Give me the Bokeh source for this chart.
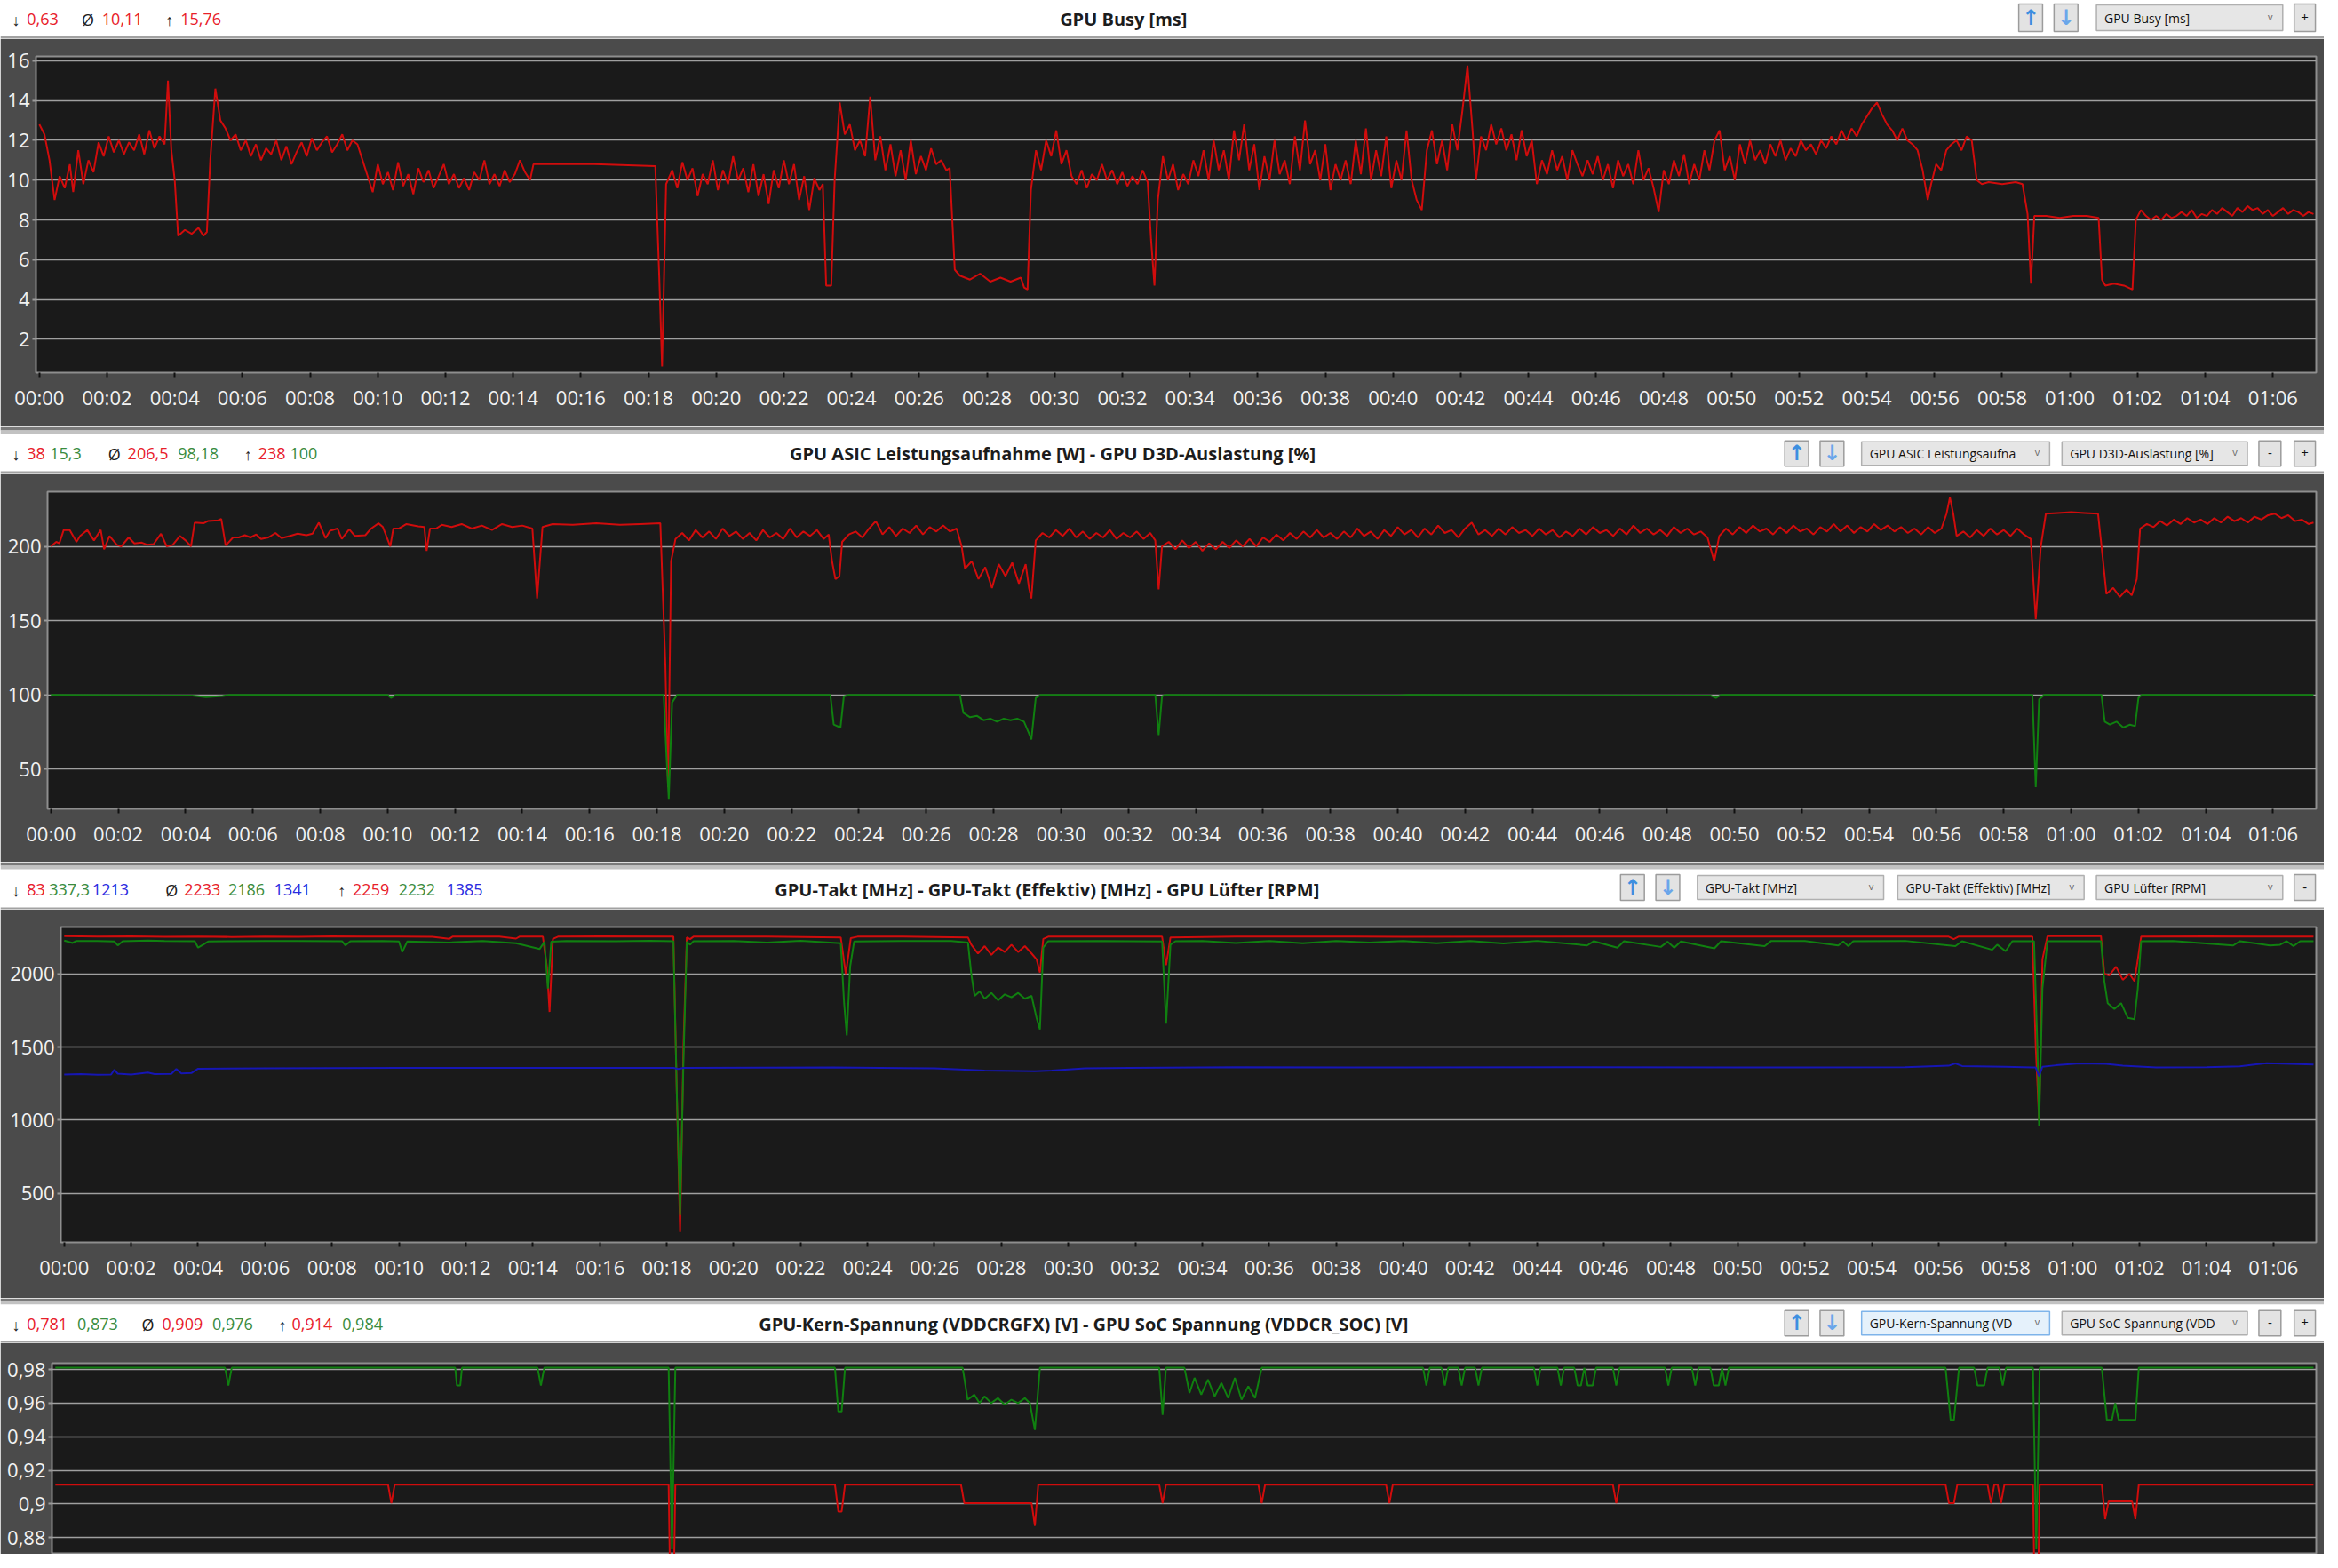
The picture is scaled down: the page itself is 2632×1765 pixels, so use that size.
from bokeh.plotting import figure
from bokeh.layouts import column
from bokeh.models import Range1d, FixedTicker, CustomJSTickFormatter, ColumnDataSource
from bokeh.core.properties import value
from bokeh.embed import file_html
from bokeh.resources import INLINE

# ------------------------------------------------------------------ data
time_ticks = [0, 2, 4, 6, 8, 10, 12, 14, 16, 18, 20, 22, 24, 26, 28, 30, 32,
              34, 36, 38, 40, 42, 44, 46, 48, 50, 52, 54, 56, 58, 60, 62, 64, 66]
time_labels = ["00:00", "00:02", "00:04", "00:06", "00:08", "00:10", "00:12", "00:14",
               "00:16", "00:18", "00:20", "00:22", "00:24", "00:26", "00:28", "00:30",
               "00:32", "00:34", "00:36", "00:38", "00:40", "00:42", "00:44", "00:46",
               "00:48", "00:50", "00:52", "00:54", "00:56", "00:58", "01:00", "01:02",
               "01:04", "01:06"]

busy_ticks = [2, 4, 6, 8, 10, 12, 14, 16]
busy_labels = ["2", "4", "6", "8", "10", "12", "14", "16"]
power_ticks = [50, 100, 150, 200]
power_labels = ["50", "100", "150", "200"]
clock_ticks = [500, 1000, 1500, 2000]
clock_labels = ["500", "1000", "1500", "2000"]
volt_ticks = [0.88, 0.9, 0.92, 0.94, 0.96, 0.98]
volt_labels = ["0,88", "0,9", "0,92", "0,94", "0,96", "0,98"]

busy_title = "GPU Busy [ms]"
power_title = "GPU ASIC Leistungsaufnahme [W]  -  GPU D3D-Auslastung [%]"
clock_title = "GPU-Takt [MHz]  -  GPU-Takt (Effektiv) [MHz]  -  GPU Lüfter [RPM]"
volt_title = "GPU-Kern-Spannung (VDDCRGFX) [V]  -  GPU SoC Spannung (VDDCR_SOC) [V]"

busy_stats = [["0,63"], ["10,11"], ["15,76"]]
power_stats = [["38", "15,3"], ["206,5", "98,18"], ["238", "100"]]
clock_stats = [["83", "337,3", "1213"], ["2233", "2186", "1341"], ["2259", "2232", "1385"]]
volt_stats = [["0,781", "0,873"], ["0,909", "0,976"], ["0,914", "0,984"]]

busy_menu = ["GPU Busy [ms]"]
power_menu = ["GPU ASIC Leistungsaufna", "GPU D3D-Auslastung [%]"]
clock_menu = ["GPU-Takt [MHz]", "GPU-Takt (Effektiv) [MHz]", "GPU Lüfter [RPM]"]
volt_menu = ["GPU-Kern-Spannung (VD", "GPU SoC Spannung (VDD"]

# GPU Busy [ms]  (time s, value)
gpu_busy = [
    (0.0, 12.8), (0.15, 12.3), (0.3, 11.0), (0.45, 9.0), (0.6, 10.2), (0.75, 9.6), (0.9, 10.8),
    (1.0, 9.4), (1.15, 11.5), (1.3, 9.8), (1.45, 11.0), (1.6, 10.4), (1.75, 11.9), (1.9, 11.2),
    (2.05, 12.2), (2.2, 11.4), (2.35, 12.0), (2.5, 11.3), (2.65, 11.9), (2.8, 11.5), (2.95, 12.3),
    (3.1, 11.3), (3.25, 12.5), (3.4, 11.6), (3.55, 12.2), (3.7, 11.8), (3.8, 15.0), (3.9, 11.5),
    (4.0, 10.0), (4.1, 7.2), (4.3, 7.5), (4.5, 7.3), (4.7, 7.6), (4.85, 7.2), (4.95, 7.4),
    (5.05, 11.0), (5.2, 14.6), (5.35, 13.0), (5.5, 12.6), (5.65, 12.0), (5.8, 12.3), (5.95, 11.5),
    (6.1, 12.0), (6.25, 11.2), (6.4, 11.8), (6.55, 11.0), (6.7, 11.6), (6.85, 11.3), (7.0, 12.0),
    (7.15, 11.0), (7.3, 11.7), (7.45, 10.8), (7.6, 11.4), (7.75, 11.9), (7.9, 11.2), (8.05, 12.1),
    (8.2, 11.5), (8.35, 11.9), (8.5, 12.2), (8.65, 11.4), (8.8, 11.8), (8.95, 12.3), (9.1, 11.5),
    (9.25, 12.0), (9.4, 11.8), (9.55, 11.0), (9.7, 10.2), (9.85, 9.4), (10.0, 10.8), (10.15, 9.8),
    (10.3, 10.4), (10.45, 9.5), (10.6, 10.9), (10.75, 9.7), (10.9, 10.3), (11.05, 9.3), (11.2, 10.6),
    (11.35, 9.9), (11.5, 10.5), (11.65, 9.6), (11.8, 10.2), (11.95, 10.8), (12.1, 9.8), (12.25, 10.3),
    (12.4, 9.6), (12.55, 10.1), (12.7, 9.5), (12.85, 10.4), (13.0, 10.0), (13.15, 11.0), (13.3, 9.8),
    (13.45, 10.3), (13.6, 9.7), (13.75, 10.5), (13.9, 9.9), (14.05, 10.3), (14.2, 11.0), (14.35, 10.4),
    (14.5, 10.0), (14.6, 10.8), (16.4, 10.8), (18.2, 10.7), (18.32, 5.0), (18.4, 0.63), (18.52, 9.8),
    (18.7, 10.5), (18.85, 9.6), (19.0, 10.9), (19.15, 10.0), (19.3, 10.6), (19.45, 9.2), (19.6, 10.3),
    (19.75, 9.8), (19.9, 11.0), (20.05, 9.5), (20.2, 10.5), (20.35, 9.8), (20.5, 11.2), (20.65, 10.0),
    (20.8, 10.6), (20.95, 9.4), (21.1, 10.8), (21.25, 9.2), (21.4, 10.3), (21.55, 8.8), (21.7, 10.5),
    (21.85, 9.6), (22.0, 11.0), (22.15, 9.8), (22.3, 10.8), (22.45, 9.0), (22.6, 10.2), (22.75, 8.5),
    (22.9, 10.1), (23.05, 9.5), (23.15, 9.8), (23.25, 4.7), (23.4, 4.7), (23.5, 10.0), (23.65, 13.9),
    (23.8, 12.3), (23.95, 12.8), (24.1, 11.5), (24.25, 12.0), (24.4, 11.2), (24.55, 14.2), (24.7, 11.0),
    (24.85, 12.2), (25.0, 10.5), (25.15, 11.8), (25.3, 10.2), (25.45, 11.5), (25.6, 10.0), (25.75, 12.0),
    (25.9, 10.3), (26.05, 11.2), (26.2, 10.5), (26.35, 11.6), (26.5, 10.8), (26.65, 11.0), (26.8, 10.5),
    (26.9, 10.6), (27.05, 5.5), (27.2, 5.2), (27.5, 5.0), (27.8, 5.3), (28.1, 4.9), (28.4, 5.1),
    (28.7, 4.9), (29.0, 5.1), (29.1, 4.6), (29.2, 4.5), (29.3, 9.5), (29.45, 11.5), (29.6, 10.5),
    (29.75, 12.0), (29.9, 11.2), (30.05, 12.5), (30.2, 10.8), (30.35, 11.5), (30.5, 10.2), (30.65, 9.8),
    (30.8, 10.5), (30.95, 9.6), (31.1, 10.3), (31.25, 10.0), (31.4, 10.8), (31.55, 10.0), (31.7, 10.5),
    (31.85, 9.8), (32.0, 10.4), (32.15, 9.7), (32.3, 10.2), (32.45, 9.8), (32.6, 10.5), (32.75, 9.9),
    (32.85, 7.0), (32.95, 4.7), (33.05, 9.0), (33.2, 11.2), (33.35, 10.0), (33.5, 10.8), (33.65, 9.5),
    (33.8, 10.3), (33.95, 9.8), (34.1, 11.0), (34.25, 10.2), (34.4, 11.5), (34.55, 10.0), (34.7, 12.0),
    (34.85, 10.5), (35.0, 11.5), (35.15, 10.0), (35.3, 12.5), (35.45, 11.0), (35.6, 12.8), (35.75, 10.5),
    (35.9, 11.8), (36.05, 9.5), (36.2, 11.2), (36.35, 10.0), (36.5, 12.0), (36.65, 10.3), (36.8, 11.0),
    (36.95, 9.8), (37.1, 12.2), (37.25, 10.5), (37.4, 13.0), (37.55, 10.8), (37.7, 11.5), (37.85, 10.0),
    (38.0, 11.8), (38.15, 9.5), (38.3, 10.8), (38.45, 10.0), (38.6, 11.0), (38.75, 9.8), (38.9, 12.0),
    (39.05, 10.3), (39.2, 12.6), (39.35, 10.0), (39.5, 11.5), (39.65, 10.2), (39.8, 12.2), (39.95, 9.6),
    (40.1, 11.0), (40.25, 10.0), (40.4, 12.5), (40.55, 10.0), (40.7, 9.0), (40.85, 8.5), (41.0, 11.5),
    (41.15, 12.5), (41.3, 10.8), (41.45, 12.0), (41.6, 10.5), (41.75, 12.8), (41.9, 11.5), (42.05, 13.5),
    (42.2, 15.76), (42.35, 12.5), (42.45, 10.0), (42.6, 12.2), (42.75, 11.5), (42.9, 12.8), (43.05, 11.8),
    (43.2, 12.6), (43.35, 11.5), (43.5, 12.3), (43.65, 11.0), (43.8, 12.5), (43.95, 11.2), (44.1, 12.0),
    (44.25, 9.8), (44.4, 11.0), (44.55, 10.3), (44.7, 11.5), (44.85, 10.5), (45.0, 11.2), (45.15, 10.0),
    (45.3, 11.5), (45.45, 10.8), (45.6, 10.2), (45.75, 11.0), (45.9, 10.3), (46.05, 11.2), (46.2, 10.0),
    (46.35, 10.8), (46.5, 9.6), (46.65, 11.0), (46.8, 10.2), (46.95, 10.8), (47.1, 9.8), (47.25, 11.5),
    (47.4, 10.0), (47.55, 10.6), (47.7, 9.6), (47.85, 8.4), (48.0, 10.5), (48.15, 9.8), (48.3, 11.0),
    (48.45, 10.2), (48.6, 11.3), (48.75, 9.8), (48.9, 10.8), (49.05, 10.0), (49.2, 11.5), (49.35, 10.5),
    (49.5, 12.0), (49.65, 12.5), (49.8, 10.5), (49.95, 11.2), (50.1, 10.0), (50.25, 11.8), (50.4, 10.8),
    (50.55, 12.0), (50.7, 11.0), (50.85, 11.5), (51.0, 10.8), (51.15, 11.8), (51.3, 11.2), (51.45, 12.0),
    (51.6, 11.0), (51.75, 11.6), (51.9, 11.2), (52.05, 12.0), (52.2, 11.5), (52.35, 11.8), (52.5, 11.3),
    (52.65, 12.0), (52.8, 11.6), (52.95, 12.2), (53.1, 11.8), (53.25, 12.5), (53.4, 12.0), (53.55, 12.6),
    (53.7, 12.2), (53.85, 12.8), (54.0, 13.2), (54.15, 13.6), (54.3, 13.9), (54.45, 13.3), (54.6, 12.8),
    (54.75, 12.5), (54.9, 12.0), (55.05, 12.6), (55.2, 12.0), (55.35, 11.8), (55.5, 11.5), (55.65, 10.5),
    (55.8, 9.0), (55.9, 9.8), (56.05, 10.8), (56.2, 10.5), (56.35, 11.5), (56.5, 11.8), (56.65, 12.0),
    (56.8, 11.5), (56.95, 12.2), (57.1, 12.0), (57.25, 10.0), (57.4, 9.8), (57.6, 9.9), (58.0, 9.8),
    (58.4, 9.9), (58.6, 9.8), (58.75, 8.3), (58.85, 4.8), (58.95, 8.2), (59.3, 8.2), (59.7, 8.1),
    (60.1, 8.2), (60.5, 8.2), (60.85, 8.1), (60.95, 5.0), (61.05, 4.7), (61.3, 4.8), (61.6, 4.7),
    (61.85, 4.5), (61.95, 8.0), (62.1, 8.5), (62.25, 8.2), (62.4, 8.0), (62.55, 8.2), (62.7, 8.0),
    (62.85, 8.3), (63.0, 8.1), (63.15, 8.2), (63.3, 8.4), (63.45, 8.2), (63.6, 8.5), (63.75, 8.1),
    (63.9, 8.3), (64.05, 8.2), (64.2, 8.5), (64.35, 8.3), (64.5, 8.6), (64.65, 8.4), (64.8, 8.2),
    (64.95, 8.6), (65.1, 8.4), (65.25, 8.7), (65.4, 8.5), (65.55, 8.6), (65.7, 8.3), (65.85, 8.5),
    (66.0, 8.2), (66.15, 8.4), (66.3, 8.6), (66.45, 8.3), (66.6, 8.5), (66.75, 8.4), (66.9, 8.2),
    (67.05, 8.4), (67.2, 8.3),
]

# GPU ASIC Leistungsaufnahme [W]
asic_power = [
    (0.0, 200), (0.16, 203), (0.25, 202), (0.38, 211), (0.56, 211), (0.76, 203), (0.87, 207),
    (1.08, 211), (1.28, 204), (1.48, 211), (1.58, 198), (1.74, 207), (1.96, 201), (2.09, 200),
    (2.31, 206), (2.48, 202), (2.7, 202.5), (2.87, 201), (3.05, 201.5), (3.27, 208.5), (3.44, 200),
    (3.62, 201), (3.83, 207), (4.0, 204), (4.16, 200), (4.27, 216), (4.53, 215.5), (4.66, 217),
    (4.97, 217.5), (5.06, 218.5), (5.19, 200.5), (5.41, 206), (5.58, 206), (5.76, 207.5), (5.93, 206),
    (6.1, 208), (6.24, 205), (6.46, 206), (6.67, 209), (6.85, 205.5), (7.11, 207), (7.33, 208.5),
    (7.59, 207.5), (7.77, 208.5), (7.96, 216), (8.16, 205.5), (8.29, 210.5), (8.51, 212), (8.64, 205),
    (8.86, 211.5), (9.03, 207), (9.34, 207.5), (9.51, 212), (9.73, 215.5), (9.86, 213), (10.08, 200),
    (10.17, 212), (10.34, 212), (10.56, 215), (10.91, 213.5), (11.09, 213), (11.16, 197), (11.26, 212),
    (11.44, 212), (11.61, 214.5), (11.9, 213), (12.2, 215), (12.5, 212), (12.8, 214), (13.1, 211),
    (13.4, 215), (13.7, 213), (14.0, 214), (14.3, 212), (14.44, 165), (14.6, 213), (14.9, 215),
    (15.5, 214.5), (16.2, 215.5), (16.9, 214.5), (17.5, 215), (18.1, 215.5), (18.25, 120), (18.33, 38),
    (18.42, 190), (18.55, 205), (18.75, 209), (18.95, 204), (19.15, 211), (19.35, 206), (19.55, 210),
    (19.75, 205), (19.95, 212), (20.15, 207), (20.35, 210), (20.55, 205), (20.75, 209), (20.95, 204),
    (21.15, 211), (21.35, 206), (21.55, 209), (21.75, 205), (21.95, 212), (22.15, 206), (22.35, 210),
    (22.55, 207), (22.75, 211), (22.95, 205), (23.1, 208), (23.2, 190), (23.3, 178), (23.42, 180),
    (23.5, 203), (23.7, 208), (23.9, 210), (24.1, 206), (24.3, 212), (24.5, 217), (24.7, 208),
    (24.9, 213), (25.1, 207), (25.3, 212), (25.5, 209), (25.7, 214), (25.9, 208), (26.1, 213),
    (26.3, 210), (26.5, 214), (26.7, 210), (26.9, 212), (27.05, 200), (27.15, 185), (27.35, 190),
    (27.55, 178), (27.75, 186), (27.95, 172), (28.15, 188), (28.35, 180), (28.55, 189), (28.75, 175),
    (28.95, 188), (29.05, 172), (29.12, 165), (29.25, 204), (29.45, 209), (29.65, 206), (29.85, 211),
    (30.05, 207), (30.25, 212), (30.45, 206), (30.65, 210), (30.85, 205), (31.05, 209), (31.25, 206),
    (31.45, 211), (31.65, 205), (31.85, 209), (32.05, 206), (32.25, 210), (32.45, 205), (32.65, 209),
    (32.8, 204), (32.9, 171), (33.0, 200), (33.2, 203), (33.4, 198), (33.6, 204), (33.8, 199),
    (34.0, 203), (34.2, 197), (34.4, 202), (34.6, 198), (34.8, 203), (35.0, 199), (35.2, 204),
    (35.4, 200), (35.6, 205), (35.8, 200), (36.0, 206), (36.2, 203), (36.4, 208), (36.6, 204),
    (36.8, 209), (37.0, 205), (37.2, 210), (37.4, 206), (37.6, 211), (37.8, 206), (38.0, 209),
    (38.2, 205), (38.4, 210), (38.6, 206), (38.8, 212), (39.0, 207), (39.2, 210), (39.4, 205),
    (39.6, 211), (39.8, 207), (40.0, 213), (40.2, 208), (40.4, 211), (40.6, 206), (40.8, 212),
    (41.0, 208), (41.2, 214), (41.4, 209), (41.6, 211), (41.8, 206), (42.0, 212), (42.2, 216),
    (42.4, 208), (42.6, 211), (42.8, 207), (43.0, 212), (43.2, 208), (43.4, 213), (43.6, 209),
    (43.8, 211), (44.0, 207), (44.2, 212), (44.4, 208), (44.6, 211), (44.8, 206), (45.0, 210),
    (45.2, 207), (45.4, 212), (45.6, 208), (45.8, 213), (46.0, 209), (46.2, 211), (46.4, 207),
    (46.6, 212), (46.8, 208), (47.0, 214), (47.2, 209), (47.4, 212), (47.6, 208), (47.8, 211),
    (48.0, 207), (48.2, 213), (48.4, 209), (48.6, 212), (48.8, 208), (49.0, 210), (49.2, 206),
    (49.4, 190), (49.55, 207), (49.75, 212), (49.95, 208), (50.15, 213), (50.35, 209), (50.55, 214),
    (50.75, 210), (50.95, 212), (51.15, 208), (51.35, 213), (51.55, 209), (51.75, 214), (51.95, 210),
    (52.15, 212), (52.35, 208), (52.55, 213), (52.75, 210), (52.95, 215), (53.15, 210), (53.35, 214),
    (53.55, 209), (53.75, 213), (53.95, 210), (54.15, 215), (54.35, 211), (54.55, 214), (54.75, 210),
    (54.95, 213), (55.15, 209), (55.35, 212), (55.55, 208), (55.75, 213), (55.95, 209), (56.15, 212),
    (56.3, 222), (56.4, 233), (56.5, 222), (56.6, 207), (56.8, 210), (57.0, 206), (57.2, 211),
    (57.4, 207), (57.6, 212), (57.8, 208), (58.0, 211), (58.2, 207), (58.4, 212), (58.6, 208),
    (58.8, 205), (58.95, 151), (59.1, 200), (59.25, 222), (59.6, 222.5), (60.0, 223), (60.4, 222.5),
    (60.8, 222), (60.95, 190), (61.05, 168), (61.25, 172), (61.45, 166), (61.65, 171), (61.8, 167),
    (61.95, 178), (62.05, 212), (62.25, 215), (62.45, 213), (62.65, 217), (62.85, 214), (63.05, 218),
    (63.25, 215), (63.45, 219), (63.65, 216), (63.85, 218), (64.05, 215), (64.25, 219), (64.45, 216),
    (64.65, 220), (64.85, 217), (65.05, 219), (65.25, 216), (65.45, 220), (65.65, 218), (65.85, 221),
    (66.05, 222), (66.25, 219), (66.45, 221), (66.65, 217), (66.85, 218), (67.05, 215), (67.2, 216),
]

# GPU D3D-Auslastung [%]
d3d_load = [
    (0.0, 100), (4.2, 99.5), (4.6, 98.5), (5.1, 99.2), (5.3, 100), (10.0, 100), (10.1, 98),
    (10.25, 100), (18.2, 100), (18.28, 60), (18.35, 30), (18.45, 95), (18.6, 100), (23.15, 100),
    (23.25, 80), (23.45, 78), (23.55, 99), (23.7, 100), (27.0, 100), (27.1, 88), (27.3, 85),
    (27.5, 86), (27.7, 83), (27.9, 84), (28.1, 82), (28.3, 84), (28.5, 83), (28.7, 84), (28.9, 82),
    (29.05, 74), (29.12, 70), (29.25, 98), (29.4, 100), (32.8, 100), (32.9, 73), (33.0, 99),
    (33.1, 100), (40.0, 99.5), (40.3, 100), (49.3, 99.5), (49.45, 98), (49.6, 100), (58.85, 100),
    (58.95, 38), (59.05, 97), (59.2, 100), (60.9, 100), (61.0, 82), (61.15, 80), (61.35, 82),
    (61.55, 78), (61.75, 80), (61.9, 79), (62.0, 98), (62.1, 100), (67.2, 100),
]

# GPU-Takt [MHz]
gpu_clock = [
    (0.0, 2258), (1.0, 2255), (2.0, 2257), (3.0, 2254), (4.0, 2256), (5.0, 2253), (6.0, 2256),
    (7.0, 2254), (8.0, 2257), (9.0, 2255), (10.0, 2256), (11.0, 2254), (11.5, 2240), (11.6, 2255),
    (13.0, 2255), (13.5, 2242), (13.6, 2255), (14.3, 2255), (14.42, 2050), (14.5, 1740),
    (14.6, 2240), (14.75, 2255), (16.0, 2257), (18.2, 2256), (18.3, 1200), (18.4, 235), (18.5, 1500),
    (18.6, 2250), (18.7, 2238), (18.8, 2255), (21.0, 2256), (23.2, 2250), (23.35, 2000), (23.5, 2245),
    (23.7, 2255), (25.0, 2256), (27.0, 2250), (27.1, 2200), (27.3, 2140), (27.5, 2190), (27.7, 2130),
    (27.9, 2180), (28.1, 2150), (28.3, 2200), (28.5, 2150), (28.7, 2190), (28.9, 2140), (29.05, 2100),
    (29.15, 2010), (29.25, 2240), (29.4, 2255), (31.0, 2256), (32.8, 2255), (32.92, 2060),
    (33.05, 2250), (35.0, 2255), (38.0, 2256), (40.0, 2254), (45.0, 2255), (50.0, 2256), (55.0, 2255),
    (56.3, 2255), (56.45, 2238), (56.6, 2256), (58.8, 2255), (58.9, 1500), (59.0, 1000), (59.1, 2100),
    (59.25, 2258), (60.85, 2258), (60.95, 2000), (61.1, 1990), (61.3, 2050), (61.5, 1960),
    (61.7, 2000), (61.85, 1950), (61.95, 2100), (62.05, 2256), (64.0, 2257), (67.2, 2255),
]

# GPU-Takt (Effektiv) [MHz]
eff_clock = [
    (0.0, 2228), (0.25, 2212), (0.35, 2225), (1.0, 2226), (1.5, 2222), (1.6, 2195), (1.75, 2224),
    (2.5, 2228), (3.0, 2226), (3.9, 2224), (4.0, 2180), (4.15, 2200), (4.3, 2222), (5.0, 2224),
    (6.0, 2226), (7.0, 2225), (8.3, 2224), (8.4, 2195), (8.55, 2224), (9.5, 2226), (10.0, 2222),
    (10.1, 2150), (10.25, 2222), (11.5, 2215), (12.5, 2226), (13.5, 2210), (14.2, 2170),
    (14.35, 2220), (14.45, 1900), (14.55, 2220), (15.0, 2226), (16.5, 2224), (17.5, 2227),
    (18.2, 2224), (18.3, 1200), (18.4, 350), (18.5, 1400), (18.6, 2220), (18.7, 2200), (18.8, 2224),
    (20.0, 2226), (21.0, 2215), (22.0, 2227), (23.2, 2210), (23.3, 1800), (23.38, 1580),
    (23.48, 2050), (23.6, 2222), (25.0, 2226), (26.5, 2225), (27.0, 2215), (27.1, 2000),
    (27.2, 1850), (27.35, 1880), (27.5, 1830), (27.7, 1870), (27.9, 1820), (28.1, 1860),
    (28.3, 1840), (28.5, 1870), (28.7, 1830), (28.9, 1850), (29.05, 1700), (29.15, 1620),
    (29.25, 2180), (29.4, 2224), (31.0, 2226), (32.8, 2222), (32.92, 1660), (33.05, 2200),
    (33.2, 2224), (34.0, 2226), (35.0, 2212), (36.0, 2225), (37.0, 2210), (38.0, 2226), (39.0, 2214),
    (40.0, 2226), (41.0, 2210), (42.0, 2225), (43.0, 2208), (44.0, 2226), (45.5, 2195), (45.7, 2224),
    (46.4, 2180), (46.6, 2224), (47.7, 2185), (47.9, 2220), (48.1, 2180), (48.3, 2222), (49.3, 2175),
    (49.5, 2224), (50.8, 2190), (51.0, 2226), (52.0, 2225), (53.0, 2195), (53.15, 2222), (53.3, 2190),
    (53.45, 2224), (55.0, 2226), (56.5, 2190), (56.7, 2224), (57.6, 2165), (57.75, 2200),
    (58.0, 2155), (58.2, 2224), (58.85, 2224), (58.95, 1500), (59.0, 960), (59.1, 1900),
    (59.25, 2224), (60.85, 2224), (60.95, 1950), (61.05, 1800), (61.25, 1760), (61.45, 1800),
    (61.65, 1700), (61.85, 1690), (61.95, 1900), (62.05, 2224), (63.0, 2226), (64.8, 2195),
    (65.0, 2224), (65.9, 2195), (66.2, 2200), (66.4, 2224), (66.6, 2190), (66.8, 2224), (67.2, 2224),
]

# GPU Lüfter [RPM]
fan_rpm = [
    (0.0, 1312), (0.5, 1315), (1.0, 1310), (1.4, 1312), (1.5, 1345), (1.6, 1318), (2.0, 1312),
    (2.5, 1325), (2.7, 1315), (3.2, 1316), (3.35, 1350), (3.5, 1320), (3.8, 1322), (4.0, 1352),
    (6.0, 1355), (8.0, 1356), (10.0, 1357), (14.0, 1358), (18.2, 1358), (18.35, 1350), (18.5, 1357),
    (23.0, 1360), (26.0, 1355), (27.5, 1340), (29.0, 1335), (29.5, 1340), (30.5, 1355), (35.0, 1362),
    (40.0, 1360), (45.0, 1362), (50.0, 1360), (55.0, 1362), (56.3, 1372), (56.5, 1388), (56.7, 1370),
    (58.0, 1365), (58.9, 1360), (59.0, 1300), (59.1, 1365), (59.5, 1375), (60.2, 1388), (61.0, 1385),
    (61.5, 1372), (62.5, 1360), (64.0, 1362), (65.0, 1368), (65.8, 1390), (66.5, 1385), (67.2, 1380),
]

# GPU-Kern-Spannung (VDDCRGFX) [V]
core_volt = [
    (0.0, 0.9115), (9.9, 0.9115), (10.0, 0.9005), (10.1, 0.9115), (18.25, 0.9115), (18.35, 0.781),
    (18.45, 0.9115), (23.2, 0.9115), (23.3, 0.8955), (23.4, 0.8955), (23.5, 0.9115), (26.95, 0.9115),
    (27.05, 0.9005), (29.05, 0.9005), (29.15, 0.887), (29.25, 0.9115), (32.85, 0.9115),
    (32.95, 0.9005), (33.05, 0.9115), (35.8, 0.9115), (35.9, 0.9005), (36.0, 0.9115), (39.6, 0.9115),
    (39.7, 0.9005), (39.8, 0.9115), (46.35, 0.9115), (46.45, 0.9005), (46.55, 0.9115),
    (56.25, 0.9115), (56.35, 0.9005), (56.5, 0.9005), (56.6, 0.9115), (57.5, 0.9115), (57.6, 0.9005),
    (57.7, 0.9115), (57.8, 0.9115), (57.9, 0.9005), (58.0, 0.9115), (58.85, 0.9115), (58.95, 0.781),
    (59.05, 0.9115), (60.9, 0.9115), (61.0, 0.891), (61.1, 0.9015), (61.8, 0.9015), (61.9, 0.891),
    (62.0, 0.9115), (67.2, 0.9115),
]

# GPU SoC Spannung (VDDCR_SOC) [V]
soc_volt = [
    (0.0, 0.981), (5.05, 0.981), (5.15, 0.9705), (5.25, 0.981), (11.9, 0.981), (11.95, 0.9705),
    (12.05, 0.9705), (12.1, 0.981), (14.35, 0.981), (14.45, 0.9705), (14.55, 0.981), (18.25, 0.981),
    (18.35, 0.873), (18.45, 0.981), (23.2, 0.981), (23.3, 0.955), (23.4, 0.955), (23.5, 0.981),
    (27.0, 0.981), (27.15, 0.962), (27.35, 0.965), (27.5, 0.960), (27.65, 0.964), (27.85, 0.960),
    (28.05, 0.963), (28.25, 0.959), (28.45, 0.962), (28.65, 0.960), (28.85, 0.963), (29.0, 0.960),
    (29.15, 0.944), (29.3, 0.981), (32.85, 0.981), (32.95, 0.953), (33.05, 0.981), (33.6, 0.981),
    (33.75, 0.966), (33.9, 0.975), (34.1, 0.965), (34.3, 0.974), (34.5, 0.964), (34.7, 0.972),
    (34.9, 0.963), (35.1, 0.975), (35.3, 0.962), (35.5, 0.970), (35.7, 0.963), (35.9, 0.981),
    (40.7, 0.981), (40.8, 0.9705), (40.9, 0.981), (41.25, 0.981), (41.35, 0.9705), (41.45, 0.981),
    (41.75, 0.981), (41.85, 0.9705), (41.95, 0.981), (42.25, 0.981), (42.35, 0.9705), (42.45, 0.981),
    (44.0, 0.981), (44.1, 0.9705), (44.2, 0.981), (44.7, 0.981), (44.8, 0.9705), (44.9, 0.981),
    (45.2, 0.981), (45.3, 0.9705), (45.4, 0.9705), (45.5, 0.981), (45.6, 0.9705), (45.75, 0.9705),
    (45.85, 0.981), (46.35, 0.981), (46.45, 0.9705), (46.55, 0.981), (47.9, 0.981), (48.0, 0.9705),
    (48.1, 0.981), (48.7, 0.981), (48.8, 0.9705), (48.9, 0.981), (49.25, 0.981), (49.35, 0.9705),
    (49.5, 0.9705), (49.6, 0.981), (49.7, 0.9705), (49.8, 0.981), (56.25, 0.981), (56.4, 0.950),
    (56.5, 0.950), (56.65, 0.981), (57.1, 0.981), (57.2, 0.9705), (57.4, 0.9705), (57.5, 0.981),
    (57.85, 0.981), (57.95, 0.9705), (58.05, 0.981), (58.85, 0.981), (58.95, 0.873), (59.05, 0.981),
    (60.9, 0.981), (61.05, 0.950), (61.2, 0.950), (61.3, 0.960), (61.4, 0.950), (61.9, 0.950),
    (62.0, 0.981), (67.2, 0.981),
]

# ------------------------------------------------------------------ layout helpers
W = 2616
REF_W, REF_H = 2632, 1765
PAGE_H = 1749
FONT = "Open Sans"
X_RANGE = (-0.1, 67.28)

RED_LINE, GREEN_LINE, BLUE_LINE = "#d00c0c", "#108010", "#1616b4"
RED_TXT, GREEN_TXT, BLUE_TXT, BLACK_TXT = "#e8202a", "#3a8c3e", "#2b2be0", "#202020"


def X(r):
    return int(round(r * W / REF_W))


def Y(r):
    return int(round(r * PAGE_H / REF_H))


def split(pairs):
    return [a for a, _ in pairs], [b for _, b in pairs]


def tick_formatter(tick_values, tick_texts):
    return CustomJSTickFormatter(args=dict(tvals=tick_values, ttexts=tick_texts), code="""
        let best = 0, bd = Infinity;
        for (let i = 0; i < tvals.length; i++) {
            const d = Math.abs(tvals[i] - tick);
            if (d < bd) { bd = d; best = i; }
        }
        return ttexts[best];
    """)


def make_header(top, white_top, white_bot, bottom, title, title_x, tokens, controls, text_y, b0, b1):
    h = Y(bottom) - Y(top)
    p = figure(width=W, height=h, x_range=Range1d(0, REF_W), y_range=Range1d(bottom, top),
               min_border=0, x_axis_type=None, y_axis_type=None, title=None,
               output_backend="svg", toolbar_location=None, frame_align=False)
    p.background_fill_color = "white"
    p.border_fill_color = "white"
    p.outline_line_color = None
    if white_top > top:
        mid = (top + white_top) / 2
        p.quad(left=0, right=REF_W, top=top, bottom=mid, fill_color="#7a7a7a", line_color=None)
        p.quad(left=0, right=REF_W, top=mid, bottom=white_top, fill_color="#c2c2c2", line_color=None)
    p.quad(left=0, right=REF_W, top=white_bot, bottom=bottom, fill_color="#a2a2a2", line_color=None)

    src = ColumnDataSource(dict(x=[t[1] for t in tokens], y=[text_y] * len(tokens),
                                text=[t[0] for t in tokens], color=[t[2] for t in tokens]))
    p.text(x="x", y="y", text="text", text_color="color", source=src,
           text_font=value(FONT), text_font_size="18px", text_baseline="middle", text_align="left")
    p.text(x=[title_x], y=[text_y], text=[title], text_font=value(FONT), text_font_size="20px",
           text_font_style="bold", text_color="#1c1c1c", text_baseline="middle", text_align="center")

    ym = (b0 + b1) / 2
    for kind, x0, x1, label in controls:
        if kind in ("up", "down"):
            p.quad(left=x0, right=x1, top=b0, bottom=b1, fill_color="#e3e3e3",
                   line_color="#9c9c9c", line_width=1.5)
            p.text(x=[(x0 + x1) / 2], y=[ym], text=["↑" if kind == "up" else "↓"],
                   text_font=value("DejaVu Sans"), text_font_size="24px", text_font_style="bold",
                   text_color="#3d8fe0" if kind == "up" else "#6aa6ea",
                   text_baseline="middle", text_align="center")
        elif kind in ("dd", "dd_active"):
            active = kind == "dd_active"
            p.quad(left=x0, right=x1, top=b0 + 1, bottom=b1 - 1,
                   fill_color="#e5f1fb" if active else "#e6e6e6",
                   line_color="#7eb4ea" if active else "#b0b0b0", line_width=1.5)
            p.text(x=[x0 + 9], y=[ym], text=[label], text_font=value(FONT), text_font_size="14px",
                   text_color="#111111", text_baseline="middle", text_align="left")
            p.text(x=[x1 - 14], y=[ym - 2], text=["v"], text_font=value(FONT), text_font_size="11px",
                   text_color="#666666", text_baseline="middle", text_align="center")
        else:
            p.quad(left=x0, right=x1, top=b0, bottom=b1, fill_color="#e3e3e3",
                   line_color="#9c9c9c", line_width=1.5)
            p.text(x=[(x0 + x1) / 2], y=[ym], text=[label], text_font=value(FONT),
                   text_font_size="15px", text_color="#111111", text_baseline="middle",
                   text_align="center")
    return p


def make_chart(top, bottom, ptop, pbot, left, yr, yticks, ylabels, series, show_x=True):
    ft, fb = Y(top), Y(bottom)
    kw = dict(width=W, height=fb - ft, x_range=Range1d(*X_RANGE), y_range=Range1d(*yr),
              output_backend="svg", toolbar_location=None, title=None, frame_align=False,
              min_border_left=X(left), min_border_right=W - X(2623),
              min_border_top=Y(ptop) - ft,
              min_border_bottom=(fb - Y(pbot)) if show_x else 0)
    if not show_x:
        kw["x_axis_location"] = None
    p = figure(**kw)
    p.background_fill_color = "#1a1a1a"
    p.border_fill_color = "#4b4b4b"
    p.outline_line_color = "#8e8e8e"
    p.outline_line_width = 2

    for xs, ys, col in series:
        p.line(xs, ys, line_color=col, line_width=2)

    ya = p.yaxis[0]
    ya.ticker = FixedTicker(ticks=yticks, minor_ticks=[])
    ya.formatter = tick_formatter(yticks, ylabels)
    ya.axis_line_color = None
    ya.major_tick_line_color = "#9a9a9a"
    ya.major_tick_line_width = 2
    ya.major_tick_in = 0
    ya.major_tick_out = 4
    ya.minor_tick_line_color = None
    ya.major_label_text_color = "#f2f2f2"
    ya.major_label_text_font = FONT
    ya.major_label_text_font_size = "22px"
    ya.major_label_standoff = 3

    p.ygrid.grid_line_color = "#a0a0a0"
    p.ygrid.grid_line_width = 1.5
    p.xgrid.visible = False

    if show_x:
        xa = p.xaxis[0]
        xa.ticker = FixedTicker(ticks=time_ticks, minor_ticks=[])
        xa.formatter = tick_formatter(time_ticks, time_labels)
        xa.axis_line_color = None
        xa.major_tick_line_color = "#101010"
        xa.major_tick_line_width = 2
        xa.major_tick_in = 0
        xa.major_tick_out = 5
        xa.minor_tick_line_color = None
        xa.major_label_text_color = "#f2f2f2"
        xa.major_label_text_font = FONT
        xa.major_label_text_font_size = "22px"
        xa.major_label_standoff = 7
    return p


def stat_tokens(stats, colors, xs):
    toks = []
    sym = ["↓", "Ø", "↑"]
    i = 0
    for k in range(3):
        toks.append((sym[k], xs[i], BLACK_TXT))
        i += 1
        for v, c in zip(stats[k], colors):
            toks.append((v, xs[i], c))
            i += 1
    return toks


# ------------------------------------------------------------------ panel 1
h1 = make_header(0, 0, 40, 43, busy_title, 1272,
                 stat_tokens(busy_stats, [RED_TXT], [13, 30, 92, 115, 187, 204]),
                 [("up", 2286, 2313, ""), ("down", 2326, 2353, ""),
                  ("dd", 2374, 2585, busy_menu[0]), ("btn", 2598, 2622, "+")],
                 21, 4, 35)
bt, bv = split(gpu_busy)
c1 = make_chart(43, 484, 64, 423, 40, (0.32, 16.22), busy_ticks, busy_labels,
                [(bt, bv, RED_LINE)])

# ------------------------------------------------------------------ panel 2
h2 = make_header(484, 492, 535, 537, power_title, 1197,
                 stat_tokens(power_stats, [RED_TXT, GREEN_TXT],
                             [13, 30, 56, 122, 144, 201, 276, 292, 328]),
                 [("up", 2021, 2048, ""), ("down", 2061, 2088, ""),
                  ("dd", 2108, 2321, power_menu[0]), ("dd", 2335, 2545, power_menu[1]),
                  ("btn", 2558, 2583, "-"), ("btn", 2598, 2622, "+")],
                 515, 500, 529)
pt, pv = split(asic_power)
dt, dv = split(d3d_load)
c2 = make_chart(537, 979, 558, 918, 53, (23.3, 236.8), power_ticks, power_labels,
                [(pt, pv, RED_LINE), (dt, dv, GREEN_LINE)])

# ------------------------------------------------------------------ panel 3
h3 = make_header(979, 987, 1030, 1032, clock_title, 1196,
                 stat_tokens(clock_stats, [RED_TXT, GREEN_TXT, BLUE_TXT],
                             [13, 30, 55, 104, 187, 208, 258, 310, 382, 399, 451, 505]),
                 [("up", 1835, 1862, ""), ("down", 1875, 1902, ""),
                  ("dd", 1922, 2133, clock_menu[0]), ("dd", 2149, 2360, clock_menu[1]),
                  ("dd", 2374, 2585, clock_menu[2]), ("btn", 2598, 2622, "-")],
                 1010, 993, 1022)
ct, cv = split(gpu_clock)
et, ev = split(eff_clock)
ft_, fv = split(fan_rpm)
c3 = make_chart(1032, 1474, 1053, 1411, 68, (163, 2321), clock_ticks, clock_labels,
                [(ct, cv, RED_LINE), (et, ev, GREEN_LINE), (ft_, fv, BLUE_LINE)])

# ------------------------------------------------------------------ panel 4
h4 = make_header(1474, 1481, 1523, 1525, volt_title, 1232,
                 stat_tokens(volt_stats, [RED_TXT, GREEN_TXT],
                             [13, 30, 87, 160, 183, 240, 315, 330, 387]),
                 [("up", 2021, 2048, ""), ("down", 2061, 2088, ""),
                  ("dd_active", 2108, 2321, volt_menu[0]), ("dd", 2335, 2545, volt_menu[1]),
                  ("btn", 2558, 2583, "-"), ("btn", 2598, 2622, "+")],
                 1504, 1488, 1517)
kt, kv = split(core_volt)
st, sv = split(soc_volt)
c4 = make_chart(1525, 1765, 1548, 1765, 58, (0.8701, 0.9837), volt_ticks, volt_labels,
                [(st, sv, GREEN_LINE), (kt, kv, RED_LINE)], show_x=False)

layout = column(h1, c1, h2, c2, h3, c3, h4, c4, spacing=0)
open("out.html", "w").write(file_html(layout, INLINE))
